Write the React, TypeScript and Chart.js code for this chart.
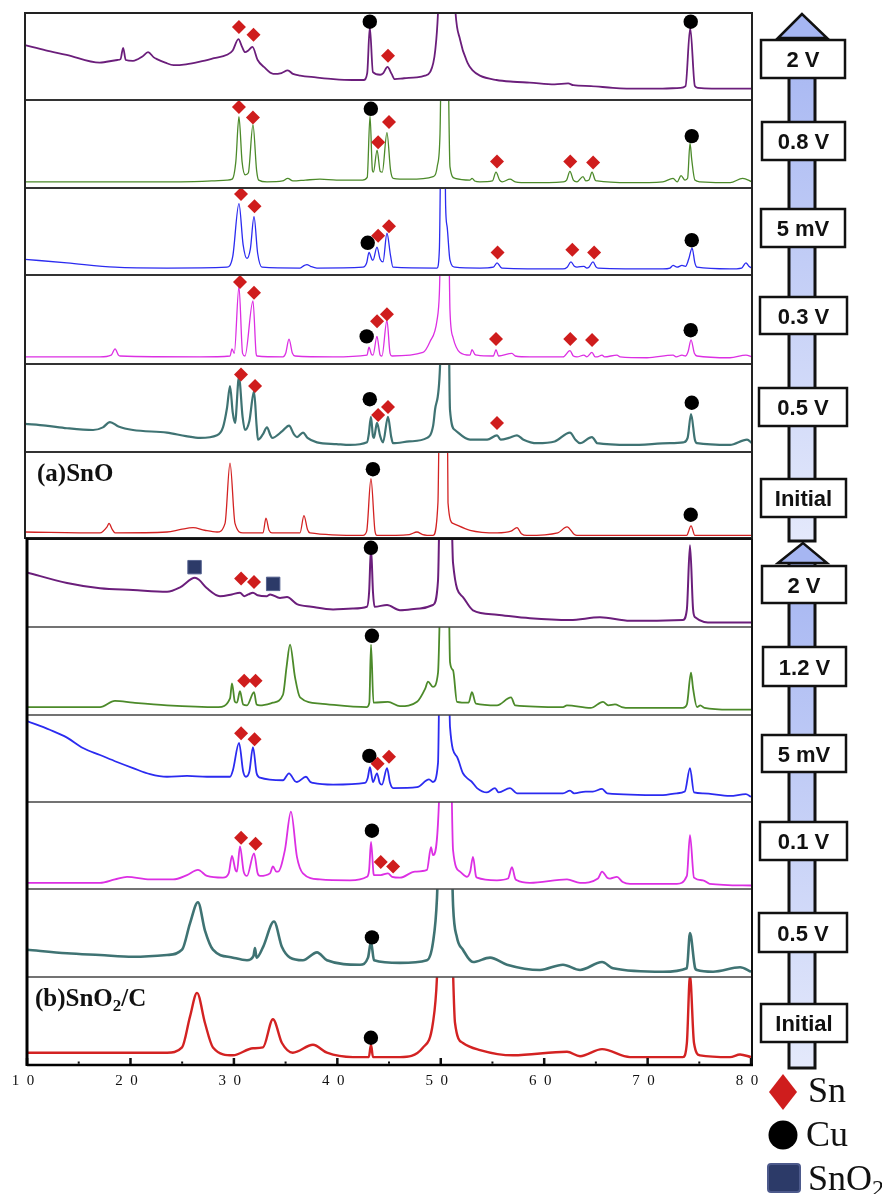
import React, { useEffect, useRef } from 'react';
import { Chart, registerables } from 'chart.js';
Chart.register(...registerables);

type P = [number, number];

// ---------- (a) SnO traces: [2θ, relative intensity % of panel height] ----------
const sno2V: P[] = [[10,63],[12,57],[14.0,52],[17.2,43],[18.9,46],[19.2,47],[19.45,60],[19.7,46],[20.4,45],[21.3,50],[21.85,55],[22.4,49],[22.7,47],[23.5,43],[24.3,40],[25.5,41],[26.85,44],[28.2,48],[29.45,52],[30.0,57],[30.55,70],[30.9,61],[31.2,55],[31.5,57],[31.9,61],[32.4,46],[33.0,38],[33.9,30],[34.7,31],[35.3,34],[35.8,30],[36.5,28],[38,26],[39.7,24],[41.5,23],[42.6,23],[42.95,31],[43.2,84],[43.5,32],[44.2,29],[44.5,31],[44.9,38],[45.3,30],[45.6,24],[46.5,25],[47.7,26],[48.5,28],[49.0,32],[49.5,57],[49.8,110],[50.1,250],[51.0,250],[51.4,110],[51.9,69],[52.6,43],[53.1,34],[53.8,28],[55.4,23],[57,21],[58.6,20],[61,18],[62.3,19],[62.8,17],[64.5,16],[66.6,14],[69,13],[71.4,13],[73.1,14],[73.6,16],[74.05,83],[74.5,16],[74.8,14],[77.9,13],[80,13]];
const sno08V: P[] = [[10,7],[15,7],[20,7],[25,7],[28,8],[29.45,9],[29.95,10],[30.3,30],[30.6,81],[30.9,30],[31.2,15],[31.5,17],[31.95,72],[32.3,20],[32.5,9],[33.3,7],[34.8,8],[35.3,11],[35.8,8],[37,9],[38.4,10],[40,9],[42.5,9],[42.95,12],[43.22,82],[43.45,20],[43.55,18],[43.9,43],[44.2,19],[44.4,18],[44.85,63],[45.2,20],[45.45,11],[47,10],[49.3,13],[49.7,25],[49.96,62],[50.15,200],[50.65,200],[50.92,24],[51.4,11],[52.85,9],[53.05,11],[53.3,8],[53.8,7],[55.0,8],[55.35,18],[55.7,9],[55.95,7],[56.7,10],[57.2,7],[58.6,6],[61.8,7],[62.15,9],[62.47,19],[62.8,9],[63.15,7],[63.73,13],[64.0,8],[64.3,9],[64.6,18],[64.9,9],[65.1,8],[68.25,6],[71.4,7],[72.4,11],[72.8,7],[73.17,14],[73.55,9],[73.8,11],[74.03,51],[74.2,32],[74.5,9],[75,7],[77.9,6],[79.1,11],[80,7]];
const sno5mV: P[] = [[10,18],[14.04,14],[18.67,9],[23.67,8],[29.45,9],[30.0,21],[30.6,82],[31.0,35],[31.37,19],[31.7,30],[32.05,67],[32.4,25],[32.82,9],[36.48,8],[36.9,11],[37.15,12],[37.5,10],[38.11,8],[42.54,9],[42.9,14],[43.12,26],[43.4,18],[43.51,17],[43.89,32],[44.2,18],[44.47,15],[44.85,48],[45.2,22],[45.43,9],[49.67,8],[49.9,30],[50.1,200],[50.4,200],[50.5,80],[50.65,55],[50.92,17],[51.4,9],[53.8,8],[55.1,9],[55.45,14],[55.8,9],[55.93,8],[61.8,7],[62.2,9],[62.57,15],[62.9,10],[63.15,9],[63.82,10],[64.1,8],[64.3,9],[64.69,15],[65.0,9],[65.17,8],[71.43,7],[72.1,8],[72.4,11],[72.78,9],[73.26,11],[73.6,10],[73.9,18],[74.23,31],[74.5,14],[74.7,9],[77.88,7],[79.0,8],[79.42,14],[79.7,10],[80,8]];
const sno03V: P[] = [[10,8],[17.22,8],[18.3,10],[18.67,17],[19.0,10],[19.15,9],[26.85,8],[29.74,9],[29.93,17],[30.15,12],[30.6,87],[30.95,12],[31.18,9],[31.95,71],[32.25,12],[32.34,9],[34.84,8],[35.1,12],[35.42,28],[35.75,12],[36.0,9],[39.65,8],[42.93,10],[43.12,19],[43.35,11],[43.51,10],[43.89,31],[44.2,10],[44.37,9],[44.85,49],[45.15,12],[45.34,9],[48.32,13],[48.99,25],[49.67,49],[49.9,80],[50.15,200],[50.73,200],[50.92,60],[51.21,30],[51.88,13],[52.85,10],[53.04,16],[53.3,11],[53.52,10],[55.1,9],[55.35,16],[55.6,9],[56.89,12],[57.2,9],[58.62,8],[61.8,8],[62.47,15],[62.8,9],[63.15,8],[63.82,10],[64.1,8],[64.59,13],[64.9,8],[65.1,8],[65.56,10],[65.8,8],[67.0,10],[67.3,8],[69.89,7],[72.4,10],[72.7,8],[73.26,10],[73.6,9],[73.85,14],[74.13,27],[74.45,12],[74.7,9],[77.88,7],[79.42,10],[80,8]];
const sno05V: P[] = [[10,32],[12,30],[14.04,27],[16.55,25],[17.5,28],[18.18,34],[19,29],[20.4,25],[23.67,22],[25.5,18],[26.85,16],[28.49,19],[29.06,28],[29.45,50],[29.74,75],[30.0,45],[30.22,33],[30.6,85],[30.95,40],[31.18,25],[31.6,35],[32.05,69],[32.3,30],[32.43,14],[32.9,20],[33.3,28],[33.6,20],[33.78,16],[34.8,24],[35.42,30],[35.9,20],[36.19,17],[36.77,22],[37.2,16],[38.11,11],[40,9],[41.29,8],[42.93,11],[43.1,20],[43.31,40],[43.5,18],[43.6,16],[43.89,33],[44.2,18],[44.47,11],[44.95,40],[45.25,18],[45.43,10],[47,12],[48.71,16],[49.3,30],[49.48,48],[49.96,97],[50.15,200],[50.73,200],[50.92,48],[51.4,25],[52.85,14],[54.5,14],[55.45,19],[55.8,14],[56.6,16],[57.37,19],[58,14],[59.3,10],[61,12],[62.47,22],[63.0,14],[63.44,10],[64.59,17],[65.0,11],[65.07,10],[68.25,8],[72.1,10],[73.4,11],[73.8,16],[74.13,43],[74.5,14],[74.7,10],[77.88,8],[79.52,14],[80,10]];
const snoInit: P[] = [[10,7],[17.22,6],[17.9,13],[18.09,17],[18.4,10],[18.67,6],[23.67,7],[25.0,10],[26.18,12],[27.3,9],[28.49,7],[29.26,17],[29.74,87],[30.22,17],[30.99,6],[32.92,6],[33.2,23],[33.5,9],[33.78,6],[36.48,6],[36.86,26],[37.2,10],[37.44,6],[42.54,3],[42.9,8],[43.31,69],[43.7,8],[43.89,3],[47.0,4],[47.74,7],[48.3,4],[49.28,3],[49.76,41],[49.96,200],[50.63,200],[50.73,41],[51.21,17],[52.85,9],[55.45,6],[56.8,8],[57.37,12],[57.8,5],[58.33,3],[61.3,6],[62.19,13],[62.9,4],[63.15,3],[71.43,3],[73.7,3],[74.13,14],[74.5,3],[74.7,3],[80,3]];

// ---------- (b) SnO2/C traces ----------
const snc2V: P[] = [[10,62],[13.87,50],[17.06,44],[20.25,42],[23.54,40],[24.8,45],[26.24,56],[26.6,54],[27.4,44],[28.66,35],[29.8,37],[30.59,39],[31.0,35],[31.4,37],[31.85,39],[32.3,36],[33.2,35],[33.5,37],[34.46,33],[35.14,34],[36.1,26],[37.5,23],[39.59,20],[41.5,21],[42.87,23],[43.08,40],[43.26,90],[43.45,40],[43.6,23],[44.81,25],[46.06,19],[48,21],[49.25,25],[49.74,53],[50.0,200],[50.9,200],[51.19,73],[52.15,34],[53.12,19],[55.44,14],[58.63,10],[62.5,8],[65.4,11],[68.3,7],[73.42,8],[73.8,20],[74.1,93],[74.4,20],[74.6,11],[76.33,5],[80,5]];
const snc12V: P[] = [[10,9],[17.06,9],[18.5,16],[20.25,14],[23.54,11],[28.5,9],[29.63,19],[29.82,36],[30.1,15],[30.3,14],[30.59,27],[30.9,12],[31.27,11],[31.95,26],[32.2,12],[32.53,11],[33.78,14],[34.75,23],[35.1,55],[35.43,80],[35.91,43],[36.4,20],[38.33,13],[42.87,9],[43.1,14],[43.26,80],[43.5,14],[43.55,14],[44.9,15],[46.06,10],[47.71,15],[48.5,30],[48.77,38],[49.25,32],[49.74,48],[50.12,200],[50.7,200],[50.9,60],[51.19,51],[51.57,15],[52.7,14],[53.02,26],[53.4,13],[55.44,11],[56.8,20],[57.2,11],[61.82,9],[62.2,11],[64.5,8],[65.69,15],[66.2,11],[66.85,12],[67.5,9],[68.3,8],[73.42,8],[73.8,12],[74.2,48],[74.4,30],[74.78,9],[75.1,11],[75.5,8],[77.97,6],[80,6]];
const snc5mV: P[] = [[10,93],[12.2,83],[13.87,74],[15.41,62],[17.06,54],[18.7,46],[20.25,39],[21.9,32],[23.54,29],[25.47,30],[27.4,29],[29.63,29],[29.92,37],[30.5,68],[30.9,35],[31.17,29],[31.5,35],[31.85,63],[32.2,33],[32.53,28],[34.75,25],[35.33,33],[35.9,24],[36.1,23],[36.97,29],[37.4,23],[37.65,22],[39.59,20],[42.68,22],[42.95,28],[43.16,40],[43.45,23],[43.84,33],[44.1,22],[44.32,20],[44.81,39],[45.1,22],[45.39,16],[47.71,17],[48.87,26],[49.25,23],[49.74,45],[49.95,200],[50.7,200],[50.9,86],[51.57,52],[52.15,33],[52.7,26],[53.02,23],[53.51,16],[54.47,11],[55.25,16],[55.6,11],[56.7,16],[57.37,10],[61.82,10],[62.5,13],[62.9,10],[64.0,12],[64.7,12],[65.6,15],[66.1,10],[71.49,8],[72.84,10],[73.6,12],[74.1,39],[74.49,11],[75.36,10],[77.97,7],[79.5,9],[80,6]];
const snc01V: P[] = [[10,7],[17.06,7],[18.5,11],[19.67,14],[21.9,11],[24.12,11],[25.47,16],[26.53,22],[27.4,15],[28.95,13],[29.5,18],[29.82,38],[30.15,22],[30.3,20],[30.59,49],[30.95,20],[31.27,15],[31.95,41],[32.3,18],[32.53,15],[33.49,18],[33.78,26],[34.1,20],[34.27,20],[34.94,45],[35.52,89],[36.1,37],[36.68,18],[38.33,11],[41.23,10],[42.87,14],[43.08,22],[43.26,54],[43.5,18],[43.55,16],[44.2,16],[44.9,18],[45.3,14],[46.06,13],[47.51,20],[48.67,22],[49.06,48],[49.25,39],[49.83,100],[50.0,200],[50.9,200],[51.19,45],[51.86,20],[52.54,14],[52.85,20],[53.12,37],[53.4,15],[53.51,13],[55.44,10],[56.5,12],[56.89,25],[57.2,12],[57.37,10],[58.63,7],[62.21,11],[63.47,7],[65.2,12],[65.6,20],[66.1,13],[66.37,12],[67.04,14],[67.6,8],[68.3,6],[72.84,6],[73.8,15],[74.1,62],[74.49,13],[75.36,10],[76,6],[80,4]];
const snc05V: P[] = [[10,31],[13.87,27],[17.06,25],[20.25,23],[23.54,25],[24.99,31],[25.76,61],[26.53,85],[27.2,53],[27.98,31],[29.92,22],[31.27,19],[31.9,24],[32.04,33],[32.2,22],[32.82,34],[33.88,63],[34.65,34],[35.43,22],[36.68,19],[38.04,28],[39.0,19],[42.2,14],[42.97,22],[43.26,40],[43.55,19],[46.06,16],[48.67,19],[49.25,39],[49.64,90],[49.93,200],[50.9,200],[51.2,80],[51.57,45],[52.15,31],[53.12,17],[54.77,22],[56.41,14],[59.6,8],[61.82,14],[63.47,8],[65.6,17],[66.66,10],[71.49,6],[73.8,10],[74.1,50],[74.6,10],[74.78,8],[76.33,6],[78.94,11],[80,6]];
const sncInit: P[] = [[10,14],[17.06,14],[23.54,14],[24.99,20],[25.76,55],[26.44,82],[27.2,48],[27.98,20],[29.92,11],[31.85,19],[32.82,20],[33.78,52],[34.65,25],[35.7,14],[37.65,23],[39.0,14],[41.52,9],[43.05,9],[43.26,23],[43.45,9],[46.06,9],[48.29,20],[49.25,48],[49.64,100],[49.9,200],[50.9,200],[51.38,48],[52.15,25],[53.8,17],[56.99,11],[62.21,15],[63.47,10],[65.6,18],[68.3,9],[73.42,9],[73.8,25],[74.1,102],[74.49,25],[75.07,11],[77.97,9],[78.94,12],[80,9]];

// ---------- phase markers ----------
const sno2VSn: P[] = [[30.6,84],[32.0,75],[44.95,51]];
const sno2VCu: P[] = [[43.2,90],[74.1,90]];
const sno08VSn: P[] = [[30.6,92],[31.95,80],[44.0,52],[45.05,75],[55.45,30],[62.5,30],[64.7,29]];
const sno08VCu: P[] = [[43.3,90],[74.2,59]];
const sno5mVSn: P[] = [[30.8,93],[32.1,79],[44.0,45],[45.05,56],[55.5,26],[62.7,29],[64.8,26]];
const sno5mVCu: P[] = [[43.0,37],[74.2,40]];
const sno03VSn: P[] = [[30.7,92],[32.05,80],[43.9,48],[44.85,56],[55.35,28],[62.5,28],[64.6,27]];
const sno03VCu: P[] = [[42.9,31],[74.1,38]];
const sno05VSn: P[] = [[30.8,88],[32.15,75],[44.0,42],[44.95,51],[55.45,33]];
const sno05VCu: P[] = [[43.2,60],[74.2,56]];
const snoInitCu: P[] = [[43.5,80],[74.1,27]];
const snc2VSn: P[] = [[30.7,55],[31.95,51]];
const snc2VCu: P[] = [[43.25,90]];
const snc2VSnO2: P[] = [[26.2,68],[33.8,49]];
const snc12VSn: P[] = [[31.0,39],[32.1,39]];
const snc12VCu: P[] = [[43.35,90]];
const snc5mVSn: P[] = [[30.7,79],[32.0,72],[43.9,44],[45.0,52]];
const snc5mVCu: P[] = [[43.1,53]];
const snc01VSn: P[] = [[30.7,59],[32.1,52],[44.2,31],[45.4,26]];
const snc01VCu: P[] = [[43.35,67]];
const snc05VCu: P[] = [[43.35,45]];
const sncInitCu: P[] = [[43.25,31]];

const topLabels = ['2 V', '0.8 V', '5 mV', '0.3 V', '0.5 V', 'Initial'];
const bottomLabels = ['2 V', '1.2 V', '5 mV', '0.1 V', '0.5 V', 'Initial'];
const majorTicks = [10, 20, 30, 40, 50, 60, 70, 80];
const majorTickLabels = ['1  0', '2  0', '3  0', '4  0', '5  0', '6  0', '7  0', '8  0'];
const legendNames = ['Sn', 'Cu', 'SnO'];

// ---------- styles ----------
const PURPLE = '#6b1e7b';
const GREEN = '#4c8a2a';
const BLUE = '#2b2bf0';
const MAGENTA = '#dc2fe3';
const TEAL = '#3f7373';
const RED = '#d32222';
const SN_COLOR = '#cf1d1d';
const SNO2_COLOR = '#2c3a68';

type Row = { trace: P[]; color: string; lw: number; sn?: P[]; cu?: P[]; sno2?: P[] };

const topRows: Row[] = [
  { trace: sno2V, color: PURPLE, lw: 1.8, sn: sno2VSn, cu: sno2VCu },
  { trace: sno08V, color: GREEN, lw: 1.3, sn: sno08VSn, cu: sno08VCu },
  { trace: sno5mV, color: BLUE, lw: 1.3, sn: sno5mVSn, cu: sno5mVCu },
  { trace: sno03V, color: MAGENTA, lw: 1.3, sn: sno03VSn, cu: sno03VCu },
  { trace: sno05V, color: TEAL, lw: 2.2, sn: sno05VSn, cu: sno05VCu },
  { trace: snoInit, color: RED, lw: 1.3, cu: snoInitCu },
];
const bottomRows: Row[] = [
  { trace: snc2V, color: PURPLE, lw: 2.0, sn: snc2VSn, cu: snc2VCu, sno2: snc2VSnO2 },
  { trace: snc12V, color: GREEN, lw: 1.8, sn: snc12VSn, cu: snc12VCu },
  { trace: snc5mV, color: BLUE, lw: 1.8, sn: snc5mVSn, cu: snc5mVCu },
  { trace: snc01V, color: MAGENTA, lw: 1.8, sn: snc01VSn, cu: snc01VCu },
  { trace: snc05V, color: TEAL, lw: 2.6, cu: snc05VCu },
  { trace: sncInit, color: RED, lw: 2.4, cu: sncInitCu },
];

const TOP_EDGES = [13, 100, 188, 275, 364, 452, 538];
const BOTTOM_EDGES = [539, 627, 715, 802, 889, 977, 1065];
const TOP_X = [25, 752];
const BOTTOM_X = [27, 751];

const toXY = (pts: P[]) => pts.map(([x, y]) => ({ x, y }));

function TraceRow({ row, left, top, width, height }: { row: Row; left: number; top: number; width: number; height: number }) {
  const ref = useRef<HTMLCanvasElement>(null);
  useEffect(() => {
    const datasets: any[] = [
      {
        data: toXY(row.trace), borderColor: row.color, borderWidth: row.lw, pointRadius: 0,
        cubicInterpolationMode: 'monotone', fill: false, order: 2,
      },
    ];
    if (row.sn) datasets.push({ data: toXY(row.sn), showLine: false, pointStyle: 'rectRot', pointRadius: 7, backgroundColor: SN_COLOR, borderWidth: 0, clip: false, order: 0 });
    if (row.cu) datasets.push({ data: toXY(row.cu), showLine: false, pointStyle: 'circle', pointRadius: 7.2, backgroundColor: '#000', borderWidth: 0, clip: false, order: 0 });
    if (row.sno2) datasets.push({ data: toXY(row.sno2), showLine: false, pointStyle: 'rect', pointRadius: 9.5, backgroundColor: SNO2_COLOR, borderColor: '#55628f', borderWidth: 1, clip: false, order: 0 });
    const chart = new Chart(ref.current as HTMLCanvasElement, {
      type: 'line',
      data: { datasets },
      options: {
        animation: false, responsive: false, events: [],
        layout: { padding: 0, autoPadding: false },
        plugins: { legend: { display: false }, tooltip: { enabled: false } },
        scales: {
          x: { type: 'linear', min: 10, max: 80, display: false },
          y: { type: 'linear', min: 0, max: 100, display: false },
        },
      } as any,
    });
    return () => chart.destroy();
  }, []);
  return <canvas ref={ref} width={width} height={height} style={{ position: 'absolute', left, top, width, height }} />;
}

function XAxis() {
  const ref = useRef<HTMLCanvasElement>(null);
  useEffect(() => {
    const tickMarks = {
      id: 'tickMarks',
      afterDraw(chart: any) {
        const s = chart.scales.x;
        const ctx = chart.ctx;
        ctx.save();
        ctx.fillStyle = '#111';
        s.ticks.forEach((t: any) => {
          const px = s.getPixelForValue(t.value);
          if (majorTicks.includes(t.value)) ctx.fillRect(px - 1.2, s.top - 7, 2.5, 7);
          else ctx.fillRect(px - 1, s.top - 3.5, 2, 2.2);
        });
        ctx.restore();
      },
    };
    const chart = new Chart(ref.current as HTMLCanvasElement, {
      type: 'line',
      data: { datasets: [] },
      options: {
        animation: false, responsive: false, events: [],
        layout: { padding: { left: 27, right: 49, top: 0, bottom: 0 }, autoPadding: false },
        plugins: { legend: { display: false }, tooltip: { enabled: false } },
        scales: {
          x: {
            type: 'linear', min: 10, max: 80, position: 'bottom',
            grid: { display: false, drawTicks: false },
            border: { display: false },
            ticks: {
              stepSize: 5, autoSkip: false, maxRotation: 0, padding: 7, labelOffset: -4,
              color: '#111', font: { family: 'Liberation Serif', size: 15 },
              callback: (v: number) => {
                const i = majorTicks.indexOf(v);
                return i >= 0 ? majorTickLabels[i] : '';
              },
            },
            afterFit: (s: any) => { s.height = 30; },
          },
          y: { display: false, min: 0, max: 1 },
        },
      } as any,
      plugins: [tickMarks],
    });
    return () => chart.destroy();
  }, []);
  return <canvas ref={ref} width={800} height={50} style={{ position: 'absolute', left: 0, top: 1045, width: 800, height: 50 }} />;
}

function LabelBox({ x, y, w, h, text }: { x: number; y: number; w: number; h: number; text: string }) {
  return (
    <g>
      <rect x={x} y={y} width={w} height={h} fill="#fff" stroke="#111" strokeWidth={2.5} />
      <text x={x + w / 2} y={y + h / 2 + 8} textAnchor="middle" fontFamily="Liberation Sans, Arial, sans-serif" fontWeight="bold" fontSize={22} fill="#111">{text}</text>
    </g>
  );
}

const topBoxes = [[761, 40, 84, 38], [762, 122, 83, 38], [761, 209, 84, 38], [760, 297, 87, 37], [759, 388, 88, 38], [761, 479, 85, 38]];
const bottomBoxes = [[762, 566, 84, 37], [763, 647, 83, 39], [762, 735, 84, 37], [760, 822, 87, 38], [759, 913, 88, 39], [761, 1004, 86, 38]];

function Overlay() {
  return (
    <svg width={882} height={1194} style={{ position: 'absolute', left: 0, top: 0, pointerEvents: 'none' }}>
      <defs>
        <linearGradient id="shaft" x1="0" y1="0" x2="0" y2="1">
          <stop offset="0" stopColor="#a6b6f2" />
          <stop offset="1" stopColor="#e4e9fb" />
        </linearGradient>
      </defs>
      {/* top panel frame */}
      {TOP_EDGES.slice(1, -1).map((y) => (
        <line key={'t' + y} x1={TOP_X[0]} x2={TOP_X[1]} y1={y} y2={y} stroke="#333" strokeWidth={2} />
      ))}
      <rect x={TOP_X[0]} y={TOP_EDGES[0]} width={TOP_X[1] - TOP_X[0]} height={TOP_EDGES[6] - TOP_EDGES[0]} fill="none" stroke="#222" strokeWidth={2} />
      {/* bottom panel frame */}
      {BOTTOM_EDGES.slice(1, -1).map((y) => (
        <line key={'b' + y} x1={BOTTOM_X[0]} x2={752} y1={y} y2={y} stroke="#444" strokeWidth={1.5} />
      ))}
      <line x1={BOTTOM_X[0]} x2={752} y1={539} y2={539} stroke="#111" strokeWidth={2} />
      <line x1={752} x2={752} y1={539} y2={1065} stroke="#111" strokeWidth={2} />
      <line x1={BOTTOM_X[0]} x2={753} y1={1065} y2={1065} stroke="#000" strokeWidth={2.5} />
      <line x1={BOTTOM_X[0]} x2={BOTTOM_X[0]} y1={538} y2={1066} stroke="#000" strokeWidth={3} />

      {/* panel labels */}
      <text x={37} y={481} fontFamily="Liberation Serif, Times New Roman, serif" fontWeight="bold" fontSize={25} fill="#111">(a)SnO</text>
      <text x={35} y={1006} fontFamily="Liberation Serif, Times New Roman, serif" fontWeight="bold" fontSize={25} fill="#111">
        (b)SnO<tspan dy={5} fontSize={17}>2</tspan><tspan dy={-5}>/C</tspan>
      </text>

      {/* arrows */}
      <rect x={789} y={36} width={26} height={505} fill="url(#shaft)" stroke="#111" strokeWidth={3} />
      <polygon points="802,14 778,38 827,38" fill="#a6b6f2" stroke="#111" strokeWidth={2.5} strokeLinejoin="miter" />
      <rect x={789} y={561} width={26} height={507} fill="url(#shaft)" stroke="#111" strokeWidth={3} />
      <polygon points="803,543 778,563 827,563" fill="#a6b6f2" stroke="#111" strokeWidth={2.5} />
      {topBoxes.map((b, i) => <LabelBox key={'tb' + i} x={b[0]} y={b[1]} w={b[2]} h={b[3]} text={topLabels[i]} />)}
      {bottomBoxes.map((b, i) => <LabelBox key={'bb' + i} x={b[0]} y={b[1]} w={b[2]} h={b[3]} text={bottomLabels[i]} />)}

      {/* legend */}
      <polygon points="783,1074 797,1092 783,1110 769,1092" fill={SN_COLOR} />
      <text x={808} y={1102} fontFamily="Liberation Serif, Times New Roman, serif" fontSize={36} fill="#111">{legendNames[0]}</text>
      <circle cx={783} cy={1135} r={14.5} fill="#000" />
      <text x={806} y={1146} fontFamily="Liberation Serif, Times New Roman, serif" fontSize={36} fill="#111">{legendNames[1]}</text>
      <rect x={768} y={1164} width={32} height={28} rx={3} fill={SNO2_COLOR} stroke="#4d5a8c" strokeWidth={2} />
      <text x={808} y={1190} fontFamily="Liberation Serif, Times New Roman, serif" fontSize={36} fill="#111">
        {legendNames[2]}<tspan dy={6} fontSize={24}>2</tspan>
      </text>
    </svg>
  );
}

export default function App() {
  return (
    <div style={{ position: 'absolute', left: 0, top: 0, width: 882, height: 1194, background: '#fff', overflow: 'hidden' }}>
      {topRows.map((r, i) => (
        <TraceRow key={'top' + i} row={r} left={TOP_X[0]} top={TOP_EDGES[i]} width={TOP_X[1] - TOP_X[0]} height={TOP_EDGES[i + 1] - TOP_EDGES[i]} />
      ))}
      {bottomRows.map((r, i) => (
        <TraceRow key={'bot' + i} row={r} left={BOTTOM_X[0]} top={BOTTOM_EDGES[i]} width={BOTTOM_X[1] - BOTTOM_X[0]} height={BOTTOM_EDGES[i + 1] - BOTTOM_EDGES[i]} />
      ))}
      <XAxis />
      <Overlay />
    </div>
  );
}
